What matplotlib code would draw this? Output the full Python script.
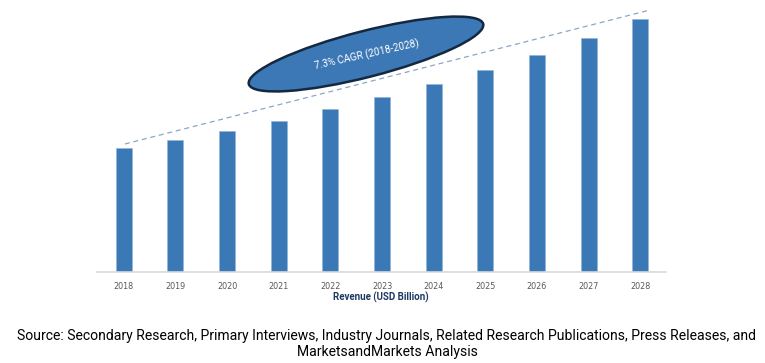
import matplotlib
matplotlib.use('Agg')
import matplotlib.pyplot as plt
from matplotlib.patches import Ellipse

# data (relative revenue)
years = [2018, 2019, 2020, 2021, 2022, 2023, 2024, 2025, 2026, 2027, 2028]
revenue = [124, 132, 141, 151, 163, 175, 188, 202, 217, 234, 253]
cagr_text = '7.3% CAGR (2018-2028)'
xlabel = 'Revenue (USD Billion)'
source = ('Source: Secondary Research, Primary Interviews, Industry Journals, Related Research Publications, Press Releases, and\n'
          'MarketsandMarkets Analysis')

bar_color = '#3A78B6'
W, H = 765, 363

fig = plt.figure(figsize=(W / 100, H / 100), dpi=100)
ax = fig.add_axes([97 / W, (H - 272) / H, 569 / W, 272 / H])
ax.bar(years, revenue, width=0.31, color=bar_color, edgecolor='#8FB3D9', linewidth=0.4, zorder=2)
ax.set_xlim(2017.48, 2028.5)
ax.set_ylim(0, 272)

# dashed trend line
ax.plot([2018.02, 2028.19], [128, 262], ls=(0, (4, 3)), color='#8AA6C8', lw=0.9, zorder=1)

for s in ['top', 'right', 'left']:
    ax.spines[s].set_visible(False)
ax.spines['bottom'].set_color('#D9D9D9')
ax.spines['bottom'].set_linewidth(1.2)
ax.set_yticks([])
ax.set_xticks(years)
ax.set_xticklabels([str(y) for y in years], fontsize=5.8, color='#595959')
ax.tick_params(axis='x', length=0, pad=7)

# overlay in pixel coords for annotation and captions
ov = fig.add_axes([0, 0, 1, 1])
ov.set_xlim(0, W)
ov.set_ylim(H, 0)
ov.axis('off')
ov.patch.set_alpha(0)

ov.add_patch(Ellipse((366, 54), 242, 46, angle=-14.4, facecolor='#3B78B5',
                     edgecolor='#14283F', linewidth=1.8))
ov.text(367, 55, cagr_text, color='white', fontsize=7.2, rotation=12.5,
        family='Roboto', ha='center', va='center', rotation_mode='anchor')

ov.text(381, 297, xlabel, color='#1F3864', fontsize=7.0, fontweight='bold',
        family='Roboto', ha='center', va='center')
ov.text(387, 344, source, color='black', fontsize=10.1, family='Roboto',
        ha='center', va='center', linespacing=1.2)

fig.savefig('out.png', dpi=100)
